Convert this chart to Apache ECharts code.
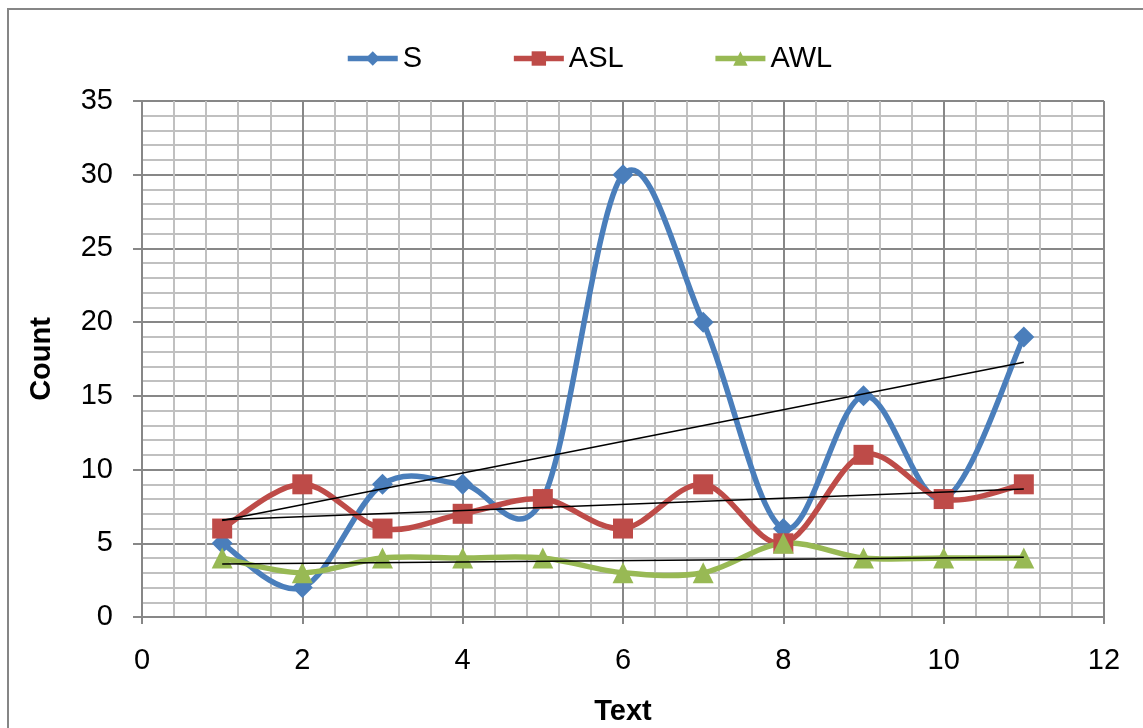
<!DOCTYPE html>
<html>
<head>
<meta charset="utf-8">
<title>Count by Text</title>
<script src="https://cdn.jsdelivr.net/npm/echarts@6/dist/echarts.min.js"></script>
<style>
  html, body { margin: 0; padding: 0; background: #ffffff; }
  #chart { width: 1143px; height: 728px; }
</style>
</head>
<body>
<div id="chart"></div>
<script>
// Text number (x) for each observation
const texts = [1, 2, 3, 4, 5, 6, 7, 8, 9, 10, 11];
// Counts per text
const sValues   = [5, 2, 9, 9, 8, 30, 20, 6, 15, 8, 19];
const aslValues = [6, 9, 6, 7, 8, 6, 9, 5, 11, 8, 9];
const awlValues = [4, 3, 4, 4, 4, 3, 3, 5, 4, 4, 4];
const seriesNames = ['S', 'ASL', 'AWL'];

// Least-squares linear trend, returned as its two end points
function trend(xs, ys) {
  const n = xs.length;
  const mx = xs.reduce((a, b) => a + b, 0) / n;
  const my = ys.reduce((a, b) => a + b, 0) / n;
  let sxy = 0, sxx = 0;
  for (let i = 0; i < n; i++) {
    sxy += (xs[i] - mx) * (ys[i] - my);
    sxx += (xs[i] - mx) * (xs[i] - mx);
  }
  const slope = sxy / sxx;
  const x0 = xs[0], x1 = xs[n - 1];
  return [[x0, my + slope * (x0 - mx)], [x1, my + slope * (x1 - mx)]];
}

const pairs = ys => texts.map((x, i) => [x, ys[i]]);

const FONT = '"Liberation Sans", Arial, sans-serif';
const FS = 29;
const MAJOR = '#878787';
const MINOR = '#c0c0c0';
const LINE_W = 5.5;

const COLORS = { S: '#4A7EBB', ASL: '#BE4B48', AWL: '#98B954' };

// Smooth connecting curve: one cubic Bezier per gap between neighbouring
// points, with Catmull-Rom control points computed in pixel space.
function curveSeries(ys, color) {
  const pts = pairs(ys);
  return {
    type: 'custom',
    coordinateSystem: 'cartesian2d',
    silent: true,
    z: 2,
    data: pts,
    renderItem: function (params, api) {
      const i = params.dataIndex;
      if (i >= pts.length - 1) return null;
      const p0 = api.coord(pts[Math.max(i - 1, 0)]);
      const p1 = api.coord(pts[i]);
      const p2 = api.coord(pts[i + 1]);
      const p3 = api.coord(pts[Math.min(i + 2, pts.length - 1)]);
      return {
        type: 'bezierCurve',
        shape: {
          x1: p1[0], y1: p1[1],
          x2: p2[0], y2: p2[1],
          cpx1: p1[0] + (p2[0] - p0[0]) / 6,
          cpy1: p1[1] + (p2[1] - p0[1]) / 6,
          cpx2: p2[0] - (p3[0] - p1[0]) / 6,
          cpy2: p2[1] - (p3[1] - p1[1]) / 6
        },
        style: { fill: null, stroke: color, lineWidth: LINE_W, lineCap: 'round' }
      };
    }
  };
}

// Markers (and legend entry) for a series
function markerSeries(name, ys, symbol, size) {
  return {
    name: name,
    type: 'line',
    data: pairs(ys),
    symbol: symbol,
    symbolSize: size,
    lineStyle: { color: COLORS[name], width: LINE_W, opacity: 0 },
    itemStyle: { color: COLORS[name] },
    z: 3
  };
}

function trendSeries(ys) {
  return {
    type: 'line',
    data: trend(texts, ys),
    symbol: 'none',
    silent: true,
    lineStyle: { color: '#000000', width: 1.5 },
    z: 5
  };
}

const chart = echarts.init(document.getElementById('chart'), null, { renderer: 'canvas' });

chart.setOption({
  backgroundColor: '#ffffff',
  animation: false,
  textStyle: { fontFamily: FONT },
  graphic: [{
    type: 'rect',
    shape: { x: 8, y: 9, width: 1160, height: 760 },
    style: { fill: 'none', stroke: '#868686', lineWidth: 2 },
    z: -1
  }],
  legend: {
    data: seriesNames.map(n => ({
      name: n,
      lineStyle: { color: COLORS[n], width: LINE_W, opacity: 1 }
    })),
    left: 340,
    top: 39,
    itemWidth: 50,
    itemHeight: 18,
    itemGap: 89,
    textStyle: { fontFamily: FONT, fontSize: FS, color: '#000000' }
  },
  grid: {
    left: 142, right: 39, top: 101, bottom: 111,
    containLabel: false,
    outerBoundsMode: 'none'
  },
  xAxis: {
    type: 'value',
    min: 0,
    max: 12,
    interval: 2,
    name: 'Text',
    nameLocation: 'middle',
    nameGap: 80,
    nameTextStyle: { fontFamily: FONT, fontSize: FS, fontWeight: 'bold', color: '#000000' },
    axisLine: { show: true, onZero: false, lineStyle: { color: MAJOR, width: 2 } },
    axisTick: { show: true, length: 7, lineStyle: { color: MAJOR, width: 2 } },
    axisLabel: { fontFamily: FONT, fontSize: FS, color: '#000000', margin: 29 },
    splitLine: { show: true, lineStyle: { color: MAJOR, width: 2 } },
    minorTick: { show: false, splitNumber: 5 },
    minorSplitLine: { show: true, lineStyle: { color: MINOR, width: 2 } }
  },
  yAxis: {
    type: 'value',
    min: 0,
    max: 35,
    interval: 5,
    name: 'Count',
    nameLocation: 'middle',
    nameGap: 86,
    nameTextStyle: { fontFamily: FONT, fontSize: FS, fontWeight: 'bold', color: '#000000' },
    axisLine: { show: true, lineStyle: { color: MAJOR, width: 2 } },
    axisTick: { show: true, length: 9, lineStyle: { color: MAJOR, width: 2 } },
    axisLabel: { fontFamily: FONT, fontSize: FS, color: '#000000', margin: 29 },
    splitLine: { show: true, lineStyle: { color: MAJOR, width: 2 } },
    minorTick: { show: false, splitNumber: 5 },
    minorSplitLine: { show: true, lineStyle: { color: MINOR, width: 2 } }
  },
  series: [
    curveSeries(sValues, COLORS.S),
    curveSeries(aslValues, COLORS.ASL),
    curveSeries(awlValues, COLORS.AWL),
    markerSeries('S', sValues, 'diamond', 21),
    markerSeries('ASL', aslValues, 'rect', 20),
    markerSeries('AWL', awlValues, 'triangle', 21),
    trendSeries(sValues),
    trendSeries(aslValues),
    trendSeries(awlValues)
  ]
});
</script>
</body>
</html>
